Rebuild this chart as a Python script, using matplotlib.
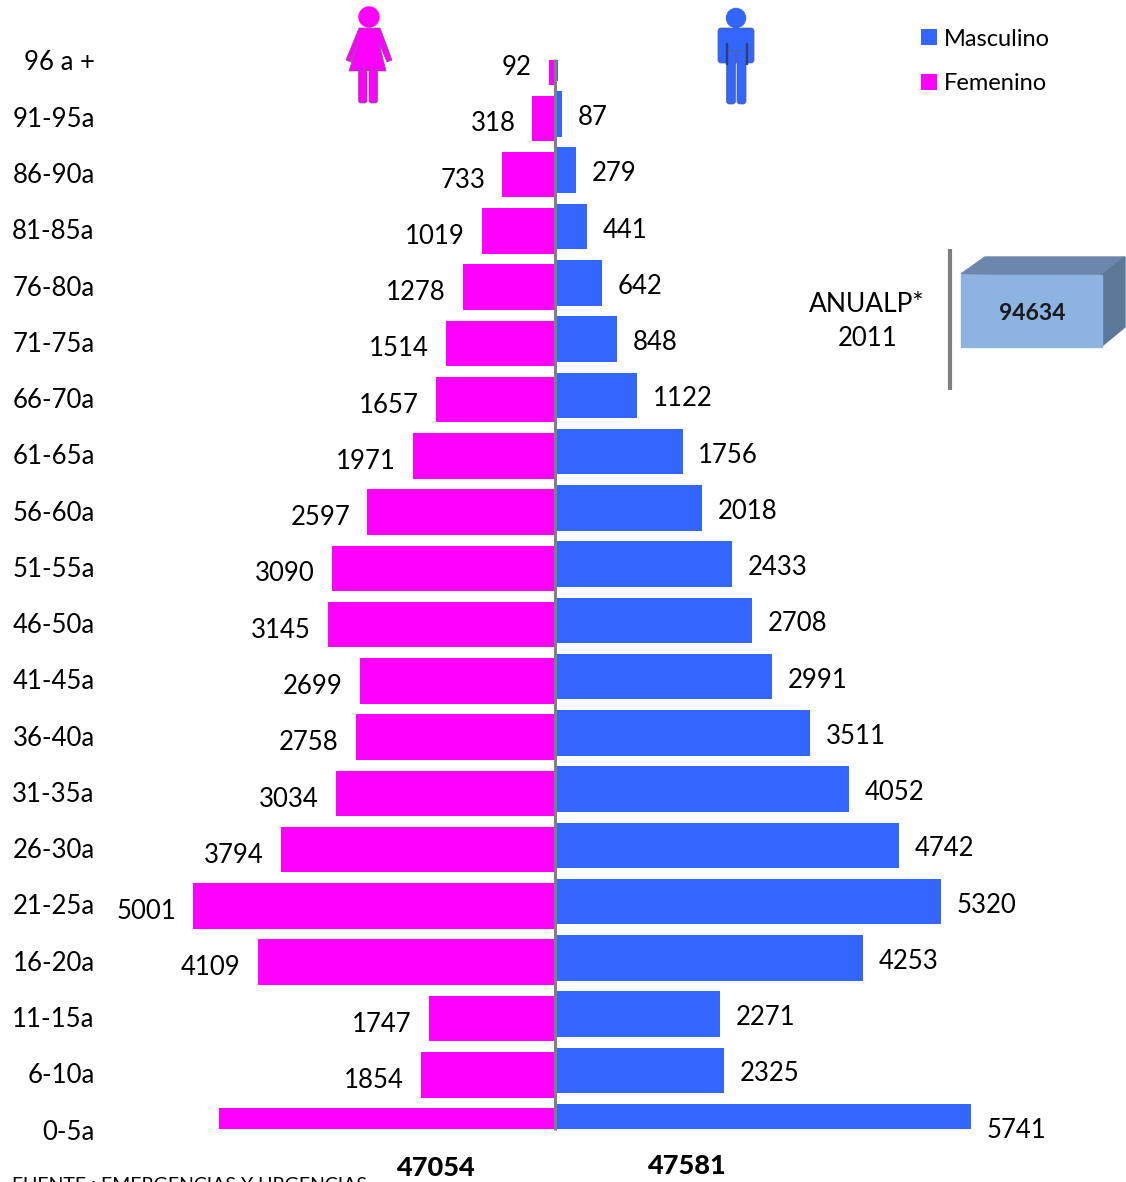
import matplotlib
matplotlib.use('Agg')
import matplotlib.pyplot as plt
from matplotlib.patches import Circle, Polygon, Rectangle, FancyBboxPatch
from matplotlib.transforms import ScaledTranslation

plt.rcParams['font.family'] = ['Lato', 'DejaVu Sans']

W, H = 1126, 1182

# grupos de edad, de abajo hacia arriba
grupos = ['0-5a', '6-10a', '11-15a', '16-20a', '21-25a', '26-30a', '31-35a', '36-40a', '41-45a', '46-50a',
          '51-55a', '56-60a', '61-65a', '66-70a', '71-75a', '76-80a', '81-85a', '86-90a', '91-95a', '96 a +']
femenino = [4644, 1854, 1747, 4109, 5001, 3794, 3034, 2758, 2699, 3145,
            3090, 2597, 1971, 1657, 1514, 1278, 1019, 733, 318, 92]
masculino = [5741, 2325, 2271, 4253, 5320, 4742, 4052, 3511, 2991, 2708,
             2433, 2018, 1756, 1122, 848, 642, 441, 279, 87, 41]
# estas dos barras no llevan etiqueta en el original
sin_etiqueta_f = ['0-5a']
sin_etiqueta_m = ['96 a +']
total_f = '47054'
total_m = '47581'
total_anual = '94634'

ROSA = '#FF00FF'
AZUL = '#3366FF'
GRIS = '#808080'
px_por_caso = 0.0724
x_cero = 555.5
izq = 105

fig = plt.figure(figsize=(W / 100, H / 100), dpi=100)
ax = fig.add_axes([izq / W, 1 - 1129 / H, (W - izq) / W, (1129 - 60) / H])
ax.set_xlim(-(x_cero - izq) / px_por_caso, (W - x_cero) / px_por_caso)
ax.set_ylim(0, 19)

pos = list(range(len(grupos)))
pos_f = [p - 0.036 for p in pos]
pos_m = [p + 0.04 for p in pos]
ax.barh(pos_f, [-v for v in femenino], height=0.81, color=ROSA, label='Femenino')
ax.barh(pos_m, masculino, height=0.81, color=AZUL, label='Masculino')

for s in ax.spines.values():
    s.set_visible(False)
ax.set_xticks([])
ax.set_yticks(pos)
ax.set_yticklabels(grupos, fontsize=18.5, va='center')
ax.tick_params(axis='y', length=0, pad=7.5)
# las etiquetas del eje van unos pixeles mas abajo
for t in ax.get_yticklabels():
    t.set_transform(t.get_transform() + ScaledTranslation(0, -3 / 100, fig.dpi_scale_trans))

for g, y, v in zip(grupos, pos_f, femenino):
    if g not in sin_etiqueta_f:
        ax.annotate(str(v), (-v, y), xytext=(-12.3, -4), textcoords='offset points', ha='right', va='center',
                    fontsize=18.5, annotation_clip=False)
for g, y, v in zip(grupos, pos_m, masculino):
    if g not in sin_etiqueta_m:
        ax.annotate(str(v), (v, y), xytext=(11.3, -2.5), textcoords='offset points', ha='left', va='center',
                    fontsize=18.5, annotation_clip=False)

# capa en pixeles para los adornos
deco = fig.add_axes([0, 0, 1, 1], facecolor='none')
deco.set_xlim(0, W)
deco.set_ylim(H, 0)
deco.axis('off')

# eje central
deco.plot([554.5, 554.5], [59, 1130], color=GRIS, lw=2.2, solid_capstyle='butt')

# mujer
deco.add_patch(Circle((369, 17), 10, color=ROSA))
deco.add_patch(Polygon([(359, 28), (380, 28), (392, 60), (387, 62), (379, 43), (386, 71), (349, 71), (358, 43),
                        (351, 62), (346, 60)], closed=True, fc=ROSA, ec='#7a5a7a', lw=0.5))
deco.add_patch(FancyBboxPatch((358.5, 70), 8.5, 33, boxstyle='round,pad=0,rounding_size=2.5', fc=ROSA, ec='#7a5a7a', lw=0.5))
deco.add_patch(FancyBboxPatch((369, 70), 8.5, 33, boxstyle='round,pad=0,rounding_size=2.5', fc=ROSA, ec='#7a5a7a', lw=0.5))

# hombre
deco.add_patch(Circle((736, 18), 9.5, color=AZUL))
deco.add_patch(FancyBboxPatch((718, 28), 36, 35, boxstyle='round,pad=0,rounding_size=3', fc=AZUL, ec='#555f80', lw=0.5))
deco.add_patch(FancyBboxPatch((726.5, 50), 9, 54, boxstyle='round,pad=0,rounding_size=3', fc=AZUL, ec='#555f80', lw=0.5))
deco.add_patch(FancyBboxPatch((737, 50), 9, 54, boxstyle='round,pad=0,rounding_size=3', fc=AZUL, ec='#555f80', lw=0.5))
deco.add_patch(Rectangle((726, 43), 1, 21, color='#2a3f7a'))
deco.add_patch(Rectangle((746, 43), 1, 21, color='#2a3f7a'))

# recuadro del total anual
deco.plot([950, 950], [249, 390], color=GRIS, lw=3, solid_capstyle='butt')
deco.add_patch(Polygon([(961, 274), (985, 257), (1125, 257), (1102, 275)], closed=True, color='#6C87AB'))
deco.add_patch(Polygon([(1102, 275), (1125, 257), (1125, 327), (1102, 346)], closed=True, color='#5C7899'))
deco.add_patch(Rectangle((961, 275), 141, 72, color='#8DB3E2'))
deco.text(1032, 313, total_anual, ha='center', va='center', fontsize=16.5, fontweight='bold', color='#1a1a1a')
deco.text(867, 305, 'ANUALP*', ha='center', va='center', fontsize=19)
deco.text(868, 338, '2011', ha='center', va='center', fontsize=18.5)

# totales y fuente
deco.text(435.5, 1168, total_f, ha='center', va='center', fontsize=19.5, fontweight='black')
deco.text(686.5, 1166, total_m, ha='center', va='center', fontsize=19.5, fontweight='black')
deco.text(12, 1177, 'FUENTE : EMERGENCIAS Y URGENCIAS', ha='left', va='top', fontsize=14)

# leyenda
h, l = ax.get_legend_handles_labels()
fig.legend(h[::-1], l[::-1], loc='upper left', bbox_to_anchor=(921 / W, 1 - 28.5 / H), frameon=False, fontsize=17,
           handlelength=0.68, handleheight=0.68, handletextpad=0.3, labelspacing=1.0, borderpad=0, borderaxespad=0)

fig.savefig('out.png', dpi=100)
